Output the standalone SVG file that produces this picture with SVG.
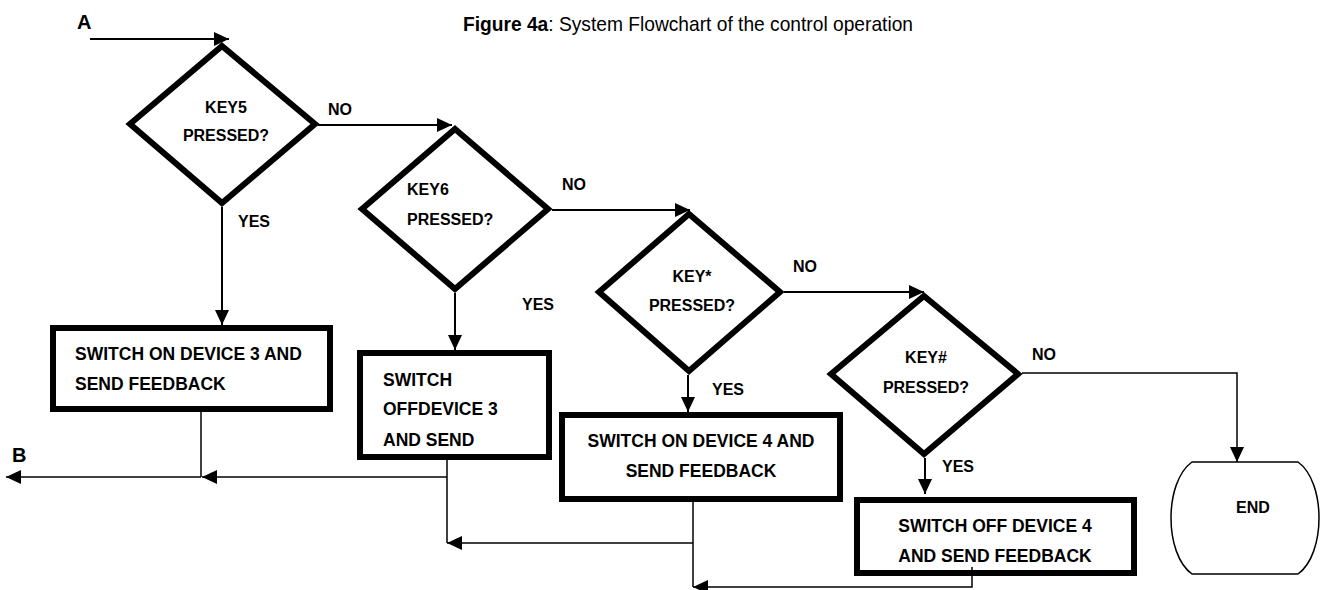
<svg xmlns="http://www.w3.org/2000/svg" width="1320" height="590" viewBox="0 0 1320 590">
<style>
.bg{fill:#fff}
.dia{fill:#fff;stroke:#000;stroke-width:6;stroke-linejoin:miter}
.box{fill:#fff;stroke:#000;stroke-width:6}
.term{fill:#fff;stroke:#000;stroke-width:1.5}
.t{font-family:"Liberation Sans",Arial,sans-serif;font-weight:bold;fill:#000}
.dt{font-size:16px}
.bt{font-size:17.5px}
.lb{font-size:16px}
.ab{font-size:20px}
.c{fill:none;stroke:#000;stroke-width:2}
.r{fill:none;stroke:#000;stroke-width:1.5}
.title{font-family:"Liberation Sans",Arial,sans-serif;font-size:21px;fill:#000}
</style>
<defs>
<marker id="ah" markerWidth="15" markerHeight="14" refX="15" refY="7" orient="auto" markerUnits="userSpaceOnUse">
<path d="M0,0 L15,7 L0,14 Z" fill="#000"/>
</marker>
</defs>
<rect class="bg" x="0" y="0" width="1320" height="590"/>
<text class="title" x="463" y="31" textLength="450" lengthAdjust="spacingAndGlyphs"><tspan font-weight="bold">Figure 4a</tspan>: System Flowchart of the control operation</text>

<g id="d1">
<polygon class="dia" points="222,46 315,124 222,203 130,124"/>
<text class="t dt" x="226" y="113" text-anchor="middle">KEY5</text>
<text class="t dt" x="226" y="141" text-anchor="middle">PRESSED?</text>
</g>
<g id="d2">
<polygon class="dia" points="455,129 548,209 455,289 362,209"/>
<text class="t dt" x="407" y="195">KEY6</text>
<text class="t dt" x="407" y="225">PRESSED?</text>
</g>
<g id="d3">
<polygon class="dia" points="689,214 780,292 689,371 599,292"/>
<text class="t dt" x="692" y="282" text-anchor="middle">KEY*</text>
<text class="t dt" x="692" y="311" text-anchor="middle">PRESSED?</text>
</g>
<g id="d4">
<polygon class="dia" points="924,296 1018,374 924,454 831,374"/>
<text class="t dt" x="926" y="363" text-anchor="middle">KEY#</text>
<text class="t dt" x="926" y="393" text-anchor="middle">PRESSED?</text>
</g>
<g id="b1">
<rect class="box" x="53" y="328" width="277" height="81"/>
<text class="t bt" x="75" y="360">SWITCH ON DEVICE 3 AND</text>
<text class="t bt" x="75" y="390">SEND FEEDBACK</text>
</g>
<g id="b2">
<rect class="box" x="360" y="353" width="189" height="104"/>
<text class="t bt" x="383" y="386">SWITCH</text>
<text class="t bt" x="383" y="415">OFFDEVICE 3</text>
<text class="t bt" x="383" y="446">AND SEND</text>
</g>
<g id="b3">
<rect class="box" x="562" y="415" width="278" height="84"/>
<text class="t bt" x="701" y="447" text-anchor="middle">SWITCH ON DEVICE 4 AND</text>
<text class="t bt" x="701" y="477" text-anchor="middle">SEND FEEDBACK</text>
</g>
<g id="b4">
<rect class="box" x="857" y="500" width="277" height="73"/>
<text class="t bt" x="995" y="532" text-anchor="middle">SWITCH OFF DEVICE 4</text>
<text class="t bt" x="995" y="562" text-anchor="middle">AND SEND FEEDBACK</text>
</g>
<g id="end">
<path class="term" d="M1192,462 L1298,462 C1326,482 1326,554 1298,574 L1192,574 C1164,554 1164,482 1192,462 Z"/>
<text class="t dt" x="1253" y="513" text-anchor="middle">END</text>
</g>

<g id="connectors">
<path class="c" d="M90,39 H229" marker-end="url(#ah)"/>
<path class="c" d="M318,125 H452" marker-end="url(#ah)"/>
<path class="c" d="M222,207 V325" marker-end="url(#ah)"/>
<path class="c" d="M552,210 H690" marker-end="url(#ah)"/>
<path class="c" d="M455,293 V350" marker-end="url(#ah)"/>
<path class="c" d="M784,292 H924" marker-end="url(#ah)"/>
<path class="c" d="M688,375 V412" marker-end="url(#ah)"/>
<path class="r" d="M1022,373 H1237 V462" marker-end="url(#ah)"/>
<path class="c" d="M925,458 V494" marker-end="url(#ah)"/>
<path class="r" d="M201,412 V477"/>
<path class="r" d="M201,477 H6" marker-end="url(#ah)"/>
<path class="r" d="M447,457 V543"/>
<path class="r" d="M447,477 H202" marker-end="url(#ah)"/>
<path class="r" d="M693,502 V587"/>
<path class="r" d="M693,543 H447" marker-end="url(#ah)"/>
<path class="r" d="M972,567 V587 H693" marker-end="url(#ah)"/>
<text class="t ab" x="77" y="29">A</text>
<text class="t ab" x="12" y="462">B</text>
<text class="t lb" x="328" y="115">NO</text>
<text class="t lb" x="238" y="227">YES</text>
<text class="t lb" x="562" y="190">NO</text>
<text class="t lb" x="522" y="310">YES</text>
<text class="t lb" x="793" y="272">NO</text>
<text class="t lb" x="712" y="395">YES</text>
<text class="t lb" x="1032" y="360">NO</text>
<text class="t lb" x="942" y="472">YES</text>
</g>
</svg>
